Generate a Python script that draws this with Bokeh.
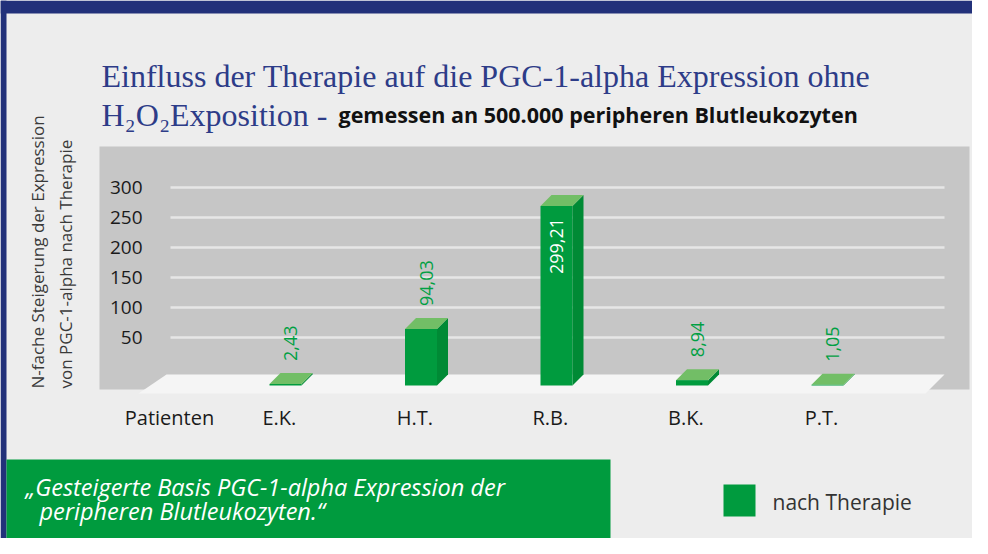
import numpy as np
from bokeh.plotting import figure
from bokeh.models import Range1d
from bokeh.core.properties import value
from bokeh.embed import file_html
from bokeh.resources import INLINE

# ---------------- data ----------------
patients = ["E.K.", "H.T.", "R.B.", "B.K.", "P.T."]
values = [2.43, 94.03, 299.21, 8.94, 1.05]
y_ticks = [50, 100, 150, 200, 250, 300]
series_name = "nach Therapie"
x_title = "Patienten"
y_title = ["N-fache Steigerung der Expression", "von PGC-1-alpha nach Therapie"]
title_line1 = "Einfluss der Therapie auf die PGC-1-alpha Expression ohne"
title_line2 = "H\u2082O\u2082Exposition -"
subtitle = "gemessen an 500.000 peripheren Blutleukozyten"
note_lines = ["\u201eGesteigerte Basis PGC-1-alpha Expression der", "peripheren Blutleukozyten.\u201c"]

# ---------------- style ----------------
NAVY = "#22317a"
TITLE_C = "#2d3c88"
GREEN = "#009b3e"
GREEN_SIDE = "#008a35"
GREEN_TOP = "#72be66"
LABEL_GREEN = "#00a043"
BG = "#ededed"
WALL = "#c6c6c6"
FLOOR = "#f5f5f5"
GRID = "#e6e6e6"
SANS = value("Open Sans")
SERIF = value("Liberation Serif")

W, H = 972, 538
p = figure(width=W, height=H, output_backend="svg", toolbar_location=None,
           x_range=Range1d(0, W), y_range=Range1d(H, 0),
           x_axis_type=None, y_axis_type=None, min_border=0,
           background_fill_color=BG, border_fill_color=BG,
           outline_line_color=None)

# category scale: bar centres, and value scales (front of bars / back wall)
p.extra_x_ranges = {"cat": Range1d((0 - 285) / 135.5, (W - 285) / 135.5)}
p.extra_y_ranges = {"front": Range1d((385 - H) / 0.6, 385 / 0.6),
                    "wall": Range1d((367 - H) / 0.6, 367 / 0.6)}

idx = np.arange(len(patients))
vals = np.array(values)

# frame decorations
p.quad(left=0, right=W, top=0, bottom=13, color=NAVY, line_color=None)
p.quad(left=0, right=6, top=0, bottom=H, color=NAVY, line_color=None)
p.quad(left=99, right=969, top=146, bottom=389, color=WALL, line_color=None)

# gridlines + tick labels on the back wall
p.segment(x0=170, x1=944, y0=y_ticks, y1=y_ticks, y_range_name="wall",
          line_color=GRID, line_width=2.5)
p.text(x=142, y=y_ticks, text=[str(t) for t in y_ticks], y_range_name="wall",
       text_align="right", text_baseline="middle", text_font=SANS,
       text_font_size="19px", text_color="#1a1a1a")

# floor
p.patch(x=[138, 166, 944, 925], y=[393, 374, 374, 393], color=FLOOR, line_color=None)

# 3D bars
bw = 32 / 135.5
dx = 11 / 135.5
dy = 11 / 0.6
side_xs, side_ys, top_xs, top_ys = [], [], [], []
for i, v in zip(idx, vals):
    r = i + bw / 2
    l = i - bw / 2
    side_xs.append([r, r + dx, r + dx, r])
    side_ys.append([0, dy, v + dy, v])
    top_xs.append([l, l + dx, r + dx, r])
    top_ys.append([v, v + dy, v + dy, v])
p.patches(xs=side_xs, ys=side_ys, x_range_name="cat", y_range_name="front",
          color=GREEN_SIDE, line_color=None)
p.patches(xs=top_xs, ys=top_ys, x_range_name="cat", y_range_name="front",
          color=GREEN_TOP, line_color=None)
p.vbar(x=idx, width=bw, top=vals, bottom=0, x_range_name="cat", y_range_name="front",
       color=GREEN, line_color=None)

# value labels
labels = [f"{v:.2f}".replace(".", ",") for v in vals]
inside = vals > 200
out_i = [k for k in range(len(vals)) if not inside[k]]
in_i = [k for k in range(len(vals)) if inside[k]]
p.text(x=[idx[k] + 0.04 for k in out_i], y=[vals[k] + dy + 20 for k in out_i],
       text=[labels[k] for k in out_i], angle=np.pi / 2,
       x_range_name="cat", y_range_name="front",
       text_align="left", text_baseline="middle", text_font=SANS,
       text_font_size="18px", text_color=LABEL_GREEN)
p.text(x=[idx[k] for k in in_i], y=[vals[k] - 20 for k in in_i],
       text=[labels[k] for k in in_i], angle=np.pi / 2,
       x_range_name="cat", y_range_name="front",
       text_align="right", text_baseline="middle", text_font=SANS,
       text_font_size="18px", text_color="white")

# category labels
p.text(x=idx - 0.045, y=417, text=patients, x_range_name="cat",
       text_align="center", text_baseline="middle", text_font=SANS,
       text_font_size="20px", text_color="#1a1a1a")
p.text(x=169, y=417, text=[x_title], text_align="center", text_baseline="middle",
       text_font=SANS, text_font_size="20px", text_color="#1a1a1a")

# y title (rotated, two lines)
p.text(x=[37, 65], y=[388, 388], text=y_title, angle=np.pi / 2,
       text_align="left", text_baseline="middle", text_font=SANS,
       text_font_size="17px", text_color="#3a3a3a")

# title
p.text(x=101, y=75, text=[title_line1], text_align="left", text_baseline="alphabetic",
       text_font=SERIF, text_font_size="32px", text_color=TITLE_C)
p.text(x=101, y=114, text=[title_line2], text_align="left", text_baseline="alphabetic",
       text_font=SERIF, text_font_size="32px", text_color=TITLE_C)
p.text(x=338, y=114, text=[subtitle], text_align="left", text_baseline="alphabetic",
       text_font=SANS, text_font_style="bold", text_font_size="21.5px", text_color="#111111")

# bottom note box
p.quad(left=6, right=610, top=459, bottom=539, color=GREEN, line_color=None)
p.text(x=[25, 39], y=[486, 510], text=note_lines, text_align="left", text_baseline="middle",
       text_font=SANS, text_font_style="italic", text_font_size="23.5px", text_color="white")

# legend
p.quad(left=723, right=755, top=484, bottom=516, color=GREEN, line_color=None)
p.text(x=772, y=501, text=[series_name], text_align="left", text_baseline="middle",
       text_font=SANS, text_font_size="21px", text_color="#333333")

open("out.html", "w").write(file_html(p, INLINE))
